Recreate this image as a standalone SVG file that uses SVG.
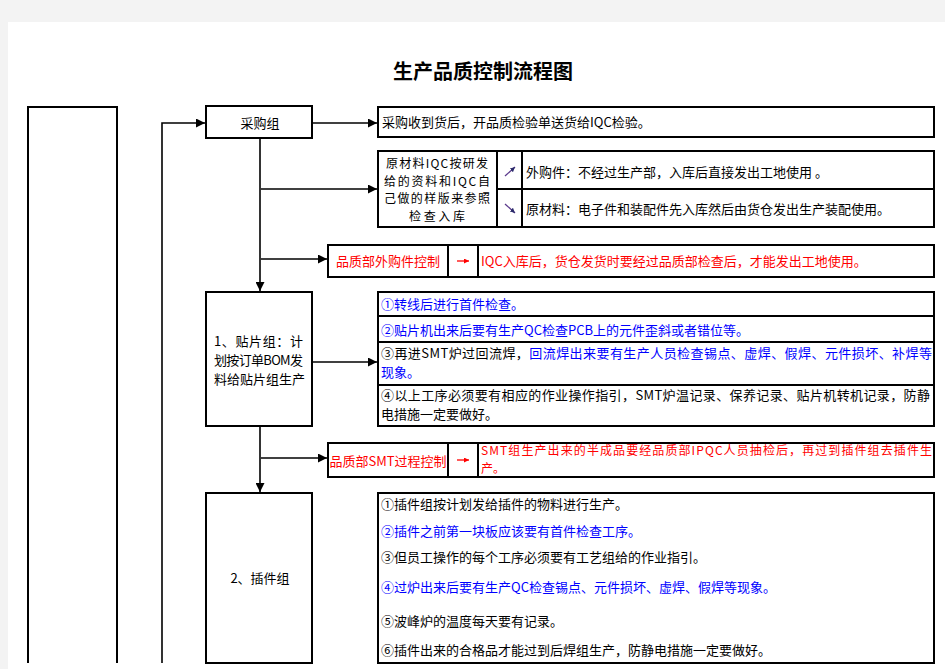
<svg xmlns="http://www.w3.org/2000/svg" width="945" height="669" viewBox="0 0 945 669">
<style>
text{font-family:"Noto Sans CJK SC","Noto Sans CJK JP",sans-serif;font-size:13px;fill:#000}
.box{fill:#fff;stroke:#000;stroke-width:2}
.div{stroke:#000;stroke-width:2;fill:none}
.conn{stroke:#000;stroke-width:1.6;fill:none}
.b{fill:#0000ff}
.r{fill:#ff0000}
.c{text-anchor:middle}
.s{font-size:12px}
.title{font-size:20px;font-weight:bold}
</style>
<defs>
<marker id="ah" markerUnits="userSpaceOnUse" markerWidth="9" markerHeight="9" refX="9" refY="4.5" orient="auto"><path d="M0,0 L9,4.5 L0,9 z" fill="#000"/></marker>
<marker id="rh" markerUnits="userSpaceOnUse" markerWidth="5" markerHeight="5" refX="5" refY="2.5" orient="auto"><path d="M0,0 L5,2.5 L0,5 z" fill="#ff0000"/></marker>
<marker id="dh" markerUnits="userSpaceOnUse" markerWidth="5" markerHeight="5" refX="5" refY="2.5" orient="auto"><path d="M0,0 L5,2.5 L0,5 z" fill="#2a2a6a"/></marker>
</defs>
<rect x="0" y="0" width="945" height="669" fill="#f3f3f3"/>
<rect x="8" y="22" width="937" height="647" fill="#fff"/>
<text class="title c" x="483" y="79">生产品质控制流程图</text>

<g id="left-box"><path class="div" d="M28,663 V107 H117 V663"/></g>

<g id="caigou">
<rect class="box" x="206" y="106" width="106" height="32"/>
<text class="c" x="260" y="128">采购组</text>
</g>

<g id="caigou-note">
<rect class="box" x="378" y="107" width="556" height="30"/>
<text x="382" y="127">采购收到货后，开品质检验单送货给IQC检验。</text>
</g>

<g id="iqc">
<rect class="box" x="378" y="151" width="556" height="76"/>
<path class="div" d="M497,151 V227 M522,151 V227 M497,189 H934"/>
<text class="s" x="386" y="168" textLength="102" lengthAdjust="spacing">原材料IQC按研发</text>
<text class="s" x="384" y="185.5" textLength="106" lengthAdjust="spacing">给的资料和IQC自</text>
<text class="s" x="384" y="203" textLength="106" lengthAdjust="spacing">己做的样版来参照</text>
<text class="s c" x="437" y="220.5" textLength="56" lengthAdjust="spacing">检查入库</text>
<path d="M505,176 L515,167" stroke="#5b3a8c" stroke-width="1.3" marker-end="url(#dh)"/>
<path d="M505,204 L515,213" stroke="#5b3a8c" stroke-width="1.3" marker-end="url(#dh)"/>
<text x="526" y="177">外购件：不经过生产部，入库后直接发出工地使用 。</text>
<text x="526" y="214">原材料：电子件和装配件先入库然后由货仓发出生产装配使用。</text>
</g>

<g id="waigou-ctrl">
<rect class="box" x="328" y="245" width="606" height="32"/>
<path class="div" d="M448,245 V277 M478,245 V277"/>
<text class="r c" x="388" y="266">品质部外购件控制</text>
<path d="M457,261 H469" stroke="#ff0000" stroke-width="1.3" marker-end="url(#rh)"/>
<text class="r" x="481" y="266">IQC入库后，货仓发货时要经过品质部检查后，才能发出工地使用。</text>
</g>

<g id="tiepian">
<rect class="box" x="206" y="292" width="106" height="134"/>
<text x="214" y="346" textLength="89" lengthAdjust="spacing">1、贴片组：计</text>
<text x="214" y="365" textLength="89" lengthAdjust="spacing">划按订单BOM发</text>
<text x="214" y="384" textLength="91" lengthAdjust="spacing">料给贴片组生产</text>
</g>

<g id="tiepian-notes">
<rect class="box" x="378" y="292" width="556" height="134"/>
<path class="div" d="M378,316 H934 M378,342 H934 M378,385 H934"/>
<text class="b" x="381" y="309">①转线后进行首件检查。</text>
<text class="b" x="381" y="335">②贴片机出来后要有生产QC检查PCB上的元件歪斜或者错位等。</text>
<text x="381" y="358" textLength="551" lengthAdjust="spacing">③再进SMT炉过回流焊，<tspan class="b">回流焊出来要有生产人员检查锡点、虚焊、假焊、元件损坏、补焊等</tspan></text>
<text class="b" x="381" y="377">现象。</text>
<text x="381" y="400" textLength="549" lengthAdjust="spacing">④以上工序必须要有相应的作业操作指引，SMT炉温记录、保养记录、贴片机转机记录，防静</text>
<text x="381" y="419">电措施一定要做好。</text>
</g>

<g id="smt-ctrl">
<rect class="box" x="328" y="443" width="606" height="34"/>
<path class="div" d="M448,443 V477 M478,443 V477"/>
<text class="r c" x="388" y="466">品质部SMT过程控制</text>
<path d="M457,460 H469" stroke="#ff0000" stroke-width="1.3" marker-end="url(#rh)"/>
<text class="r s" x="481" y="455" textLength="451" lengthAdjust="spacing">SMT组生产出来的半成品要经品质部IPQC人员抽检后，再过到插件组去插件生</text>
<text class="r s" x="481" y="473">产。</text>
</g>

<g id="chajian">
<rect class="box" x="206" y="493" width="106" height="170"/>
<text class="c" x="260" y="583">2、插件组</text>
</g>

<g id="chajian-notes">
<rect class="box" x="378" y="493" width="556" height="170"/>
<text x="381" y="509">①插件组按计划发给插件的物料进行生产。</text>
<text class="b" x="381" y="536">②插件之前第一块板应该要有首件检查工序。</text>
<text x="381" y="562">③但员工操作的每个工序必须要有工艺组给的作业指引。</text>
<text class="b" x="381" y="592">④过炉出来后要有生产QC检查锡点、元件损坏、虚焊、假焊等现象。</text>
<text x="381" y="626">⑤波峰炉的温度每天要有记录。</text>
<text x="381" y="655">⑥插件出来的合格品才能过到后焊组生产，防静电措施一定要做好。</text>
</g>

<g id="connectors">
<path class="conn" d="M162,663 V123 H205" marker-end="url(#ah)"/>
<path class="conn" d="M312,123 H377" marker-end="url(#ah)"/>
<path class="conn" d="M260,138 V291" marker-end="url(#ah)"/>
<path class="conn" d="M261,189 H377" marker-end="url(#ah)"/>
<path class="conn" d="M261,259 H327" marker-end="url(#ah)"/>
<path class="conn" d="M312,362 H377" marker-end="url(#ah)"/>
<path class="conn" d="M260,426 V492" marker-end="url(#ah)"/>
<path class="conn" d="M261,458 H327" marker-end="url(#ah)"/>
</g>
</svg>
